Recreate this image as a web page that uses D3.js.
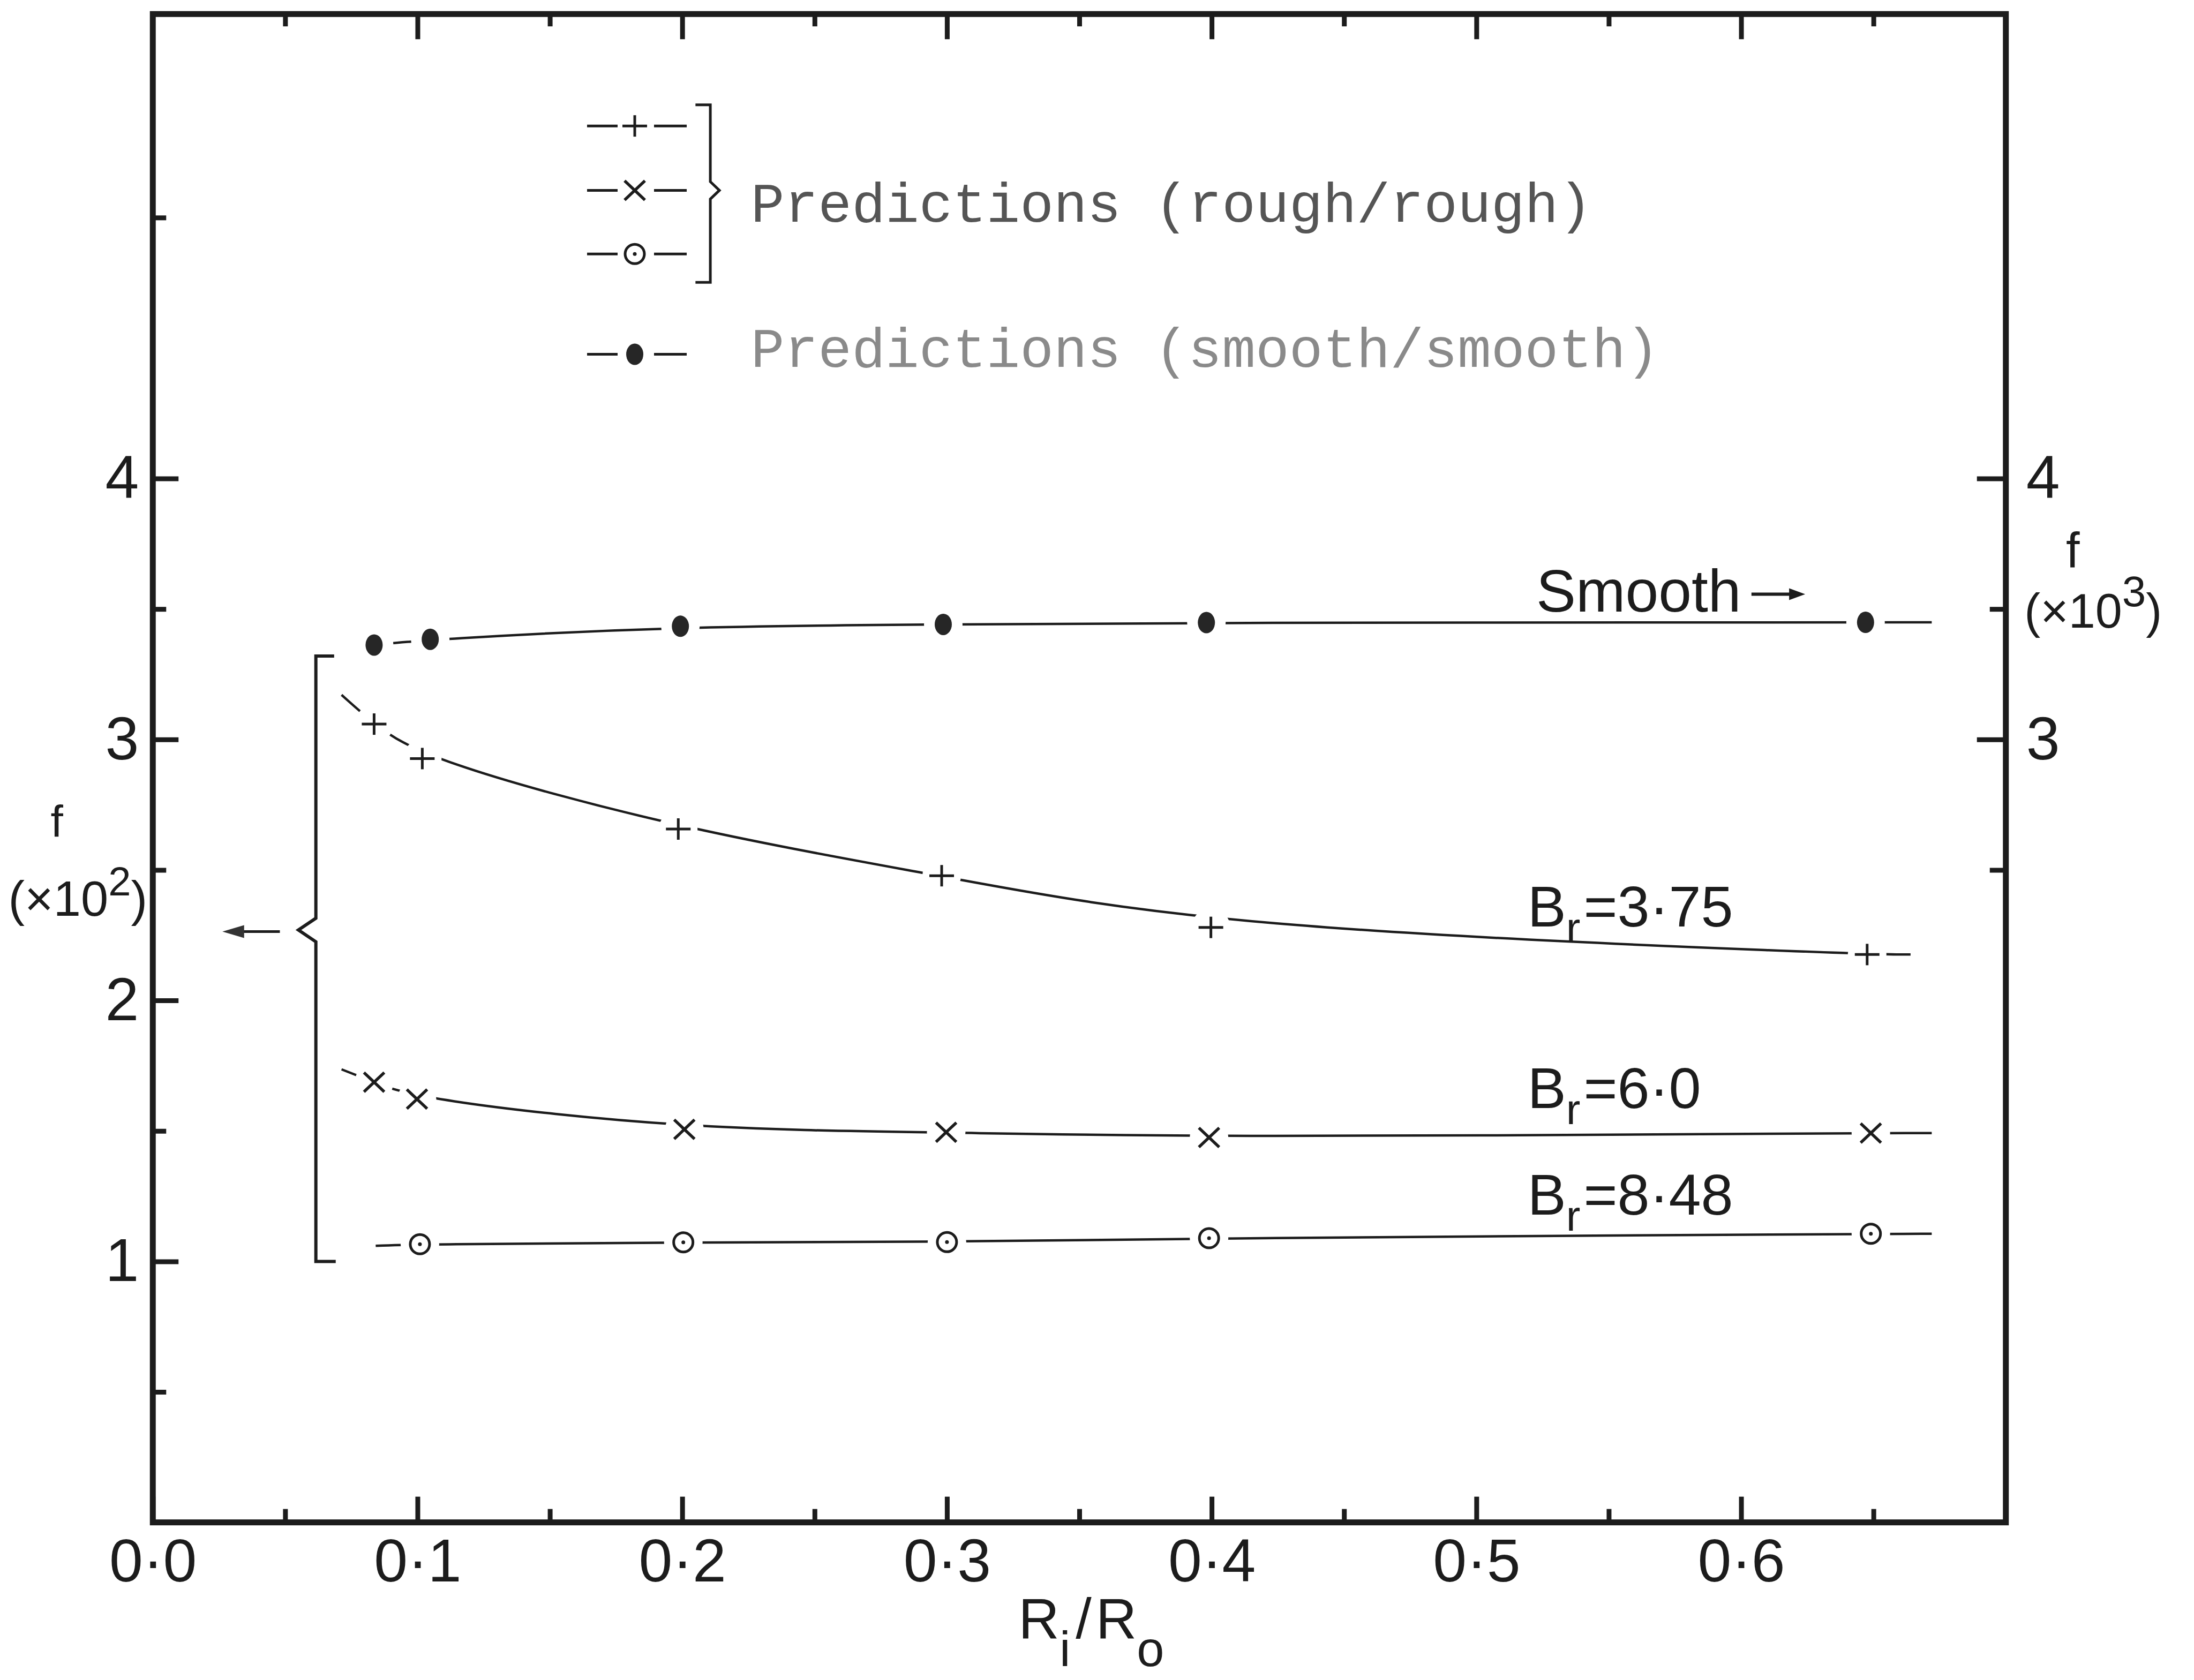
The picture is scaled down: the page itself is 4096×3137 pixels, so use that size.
<!DOCTYPE html>
<html><head><meta charset="utf-8">
<script src="https://cdn.jsdelivr.net/npm/d3@7"></script>
<style>html,body{margin:0;padding:0;background:#ffffff;} svg{display:block;}</style>
</head><body>
<svg id="chart" width="4096" height="3137"></svg>
<script>
// ---------------- data ----------------
// x: R_i/R_o ; y: f (x10^2 for rough/rough, x10^3 for smooth/smooth)
const smoothX = [0.0836, 0.1048, 0.1993, 0.2986, 0.398, 0.647];
const smoothY = [3.362, 3.384, 3.434, 3.441, 3.448, 3.449];
const br375X  = [0.0836, 0.1018, 0.1985, 0.298, 0.3997, 0.6476];
const br375Y  = [3.059, 2.927, 2.657, 2.478, 2.28, 2.176];
const br60X   = [0.0836, 0.0998, 0.2008, 0.2997, 0.399, 0.649];
const br60Y   = [1.687, 1.622, 1.506, 1.495, 1.475, 1.492];
const br848X  = [0.1009, 0.2004, 0.300, 0.399, 0.649];
const br848Y  = [1.066, 1.073, 1.074, 1.089, 1.106];
// where each drawn curve begins and ends (lead-in / tail of the pen line)
const smoothLead = null,            smoothTail = [0.672, 3.449];
const br375Lead  = [0.0713, 3.171], br375Tail  = [0.664, 2.176];
const br60Lead   = [0.0713, 1.736], br60Tail   = [0.672, 1.492];
const br848Lead  = [0.0842, 1.060], br848Tail  = [0.672, 1.106];

const xTickValues = [0, 0.1, 0.2, 0.3, 0.4, 0.5, 0.6];
const xTickLabels = ["0·0", "0·1", "0·2", "0·3", "0·4", "0·5", "0·6"];
const xMinorTicks = [0.05, 0.15, 0.25, 0.35, 0.45, 0.55, 0.65];
const topMajorTicks = [0.1, 0.2, 0.3, 0.4, 0.5, 0.6];
const yTickValues = [1, 2, 3, 4];
const yTickLabels = ["1", "2", "3", "4"];
const yMinorTicks = [0.5, 1.5, 2.5, 3.5, 5];
const yRightTickValues = [3, 4];
const yRightTickLabels = ["3", "4"];
const yRightMinorTicks = [2.5, 3.5];

const legendRough = "Predictions (rough/rough)";
const legendSmooth = "Predictions (smooth/smooth)";

// ---------------- layout ----------------
const S = 0.771;                 // reference px -> output px
const FONT = "'Liberation Sans', Arial, sans-serif";
const MONO = "'Liberation Mono', 'DejaVu Sans Mono', monospace";
const INK = "#1c1c1c";
const BG = "#ffffff";

const pL = 370 * S, pR = 4857 * S, pT = 34 * S, pB = 3687 * S;
const x = d3.scaleLinear().domain([0, 0.70]).range([pL, pR]);
const y = d3.scaleLinear().domain([0, 5.78]).range([pB, pT]);

const svg = d3.select("#chart");
svg.append("rect").attr("width", 4096).attr("height", 3137).attr("fill", BG);

// ---------------- axes ----------------
function finish(g, fs) {
  g.select(".domain").remove();
  g.attr("font-family", FONT).attr("font-size", fs);
  g.selectAll(".tick line").attr("stroke", INK).attr("stroke-width", 9);
  g.selectAll(".tick text").attr("fill", INK);
}
const TF = 113;
// left
svg.append("g").attr("transform", `translate(${pL},0)`)
  .call(d3.axisLeft(y).tickValues(yTickValues).tickFormat((d, i) => yTickLabels[i])
    .tickSizeInner(-48).tickSizeOuter(0).tickPadding(26)).call(g => finish(g, TF));
svg.append("g").attr("transform", `translate(${pL},0)`)
  .call(d3.axisLeft(y).tickValues(yMinorTicks).tickFormat("").tickSizeInner(-25).tickSizeOuter(0))
  .call(g => finish(g, TF));
// right
svg.append("g").attr("transform", `translate(${pR},0)`)
  .call(d3.axisRight(y).tickValues(yRightTickValues).tickFormat((d, i) => yRightTickLabels[i])
    .tickSizeInner(-54).tickSizeOuter(0).tickPadding(38)).call(g => finish(g, TF));
svg.append("g").attr("transform", `translate(${pR},0)`)
  .call(d3.axisRight(y).tickValues(yRightMinorTicks).tickFormat("").tickSizeInner(-30).tickSizeOuter(0))
  .call(g => finish(g, TF));
// bottom
svg.append("g").attr("transform", `translate(0,${pB})`)
  .call(d3.axisBottom(x).tickValues(xTickValues).tickFormat((d, i) => xTickLabels[i])
    .tickSizeInner(-48).tickSizeOuter(0).tickPadding(30)).call(g => finish(g, TF));
svg.append("g").attr("transform", `translate(0,${pB})`)
  .call(d3.axisBottom(x).tickValues(xMinorTicks).tickFormat("").tickSizeInner(-25).tickSizeOuter(0))
  .call(g => finish(g, TF));
// top
svg.append("g").attr("transform", `translate(0,${pT})`)
  .call(d3.axisTop(x).tickValues(topMajorTicks).tickFormat("").tickSizeInner(-47).tickSizeOuter(0))
  .call(g => finish(g, TF));
svg.append("g").attr("transform", `translate(0,${pT})`)
  .call(d3.axisTop(x).tickValues(xMinorTicks).tickFormat("").tickSizeInner(-23).tickSizeOuter(0))
  .call(g => finish(g, TF));

// frame
svg.append("rect").attr("x", pL).attr("y", pT).attr("width", pR - pL).attr("height", pB - pT)
  .attr("fill", "none").attr("stroke", INK).attr("stroke-width", 11).attr("stroke-linejoin", "miter");

// axis titles
const xt = svg.append("text").attr("x", x(0.327)).attr("y", 3059)
  .attr("font-family", FONT).attr("font-size", 106).attr("fill", INK);
xt.append("tspan").text("R");
xt.append("tspan").attr("dy", 52).attr("font-size", 92).text("i");
xt.append("tspan").attr("dy", -52).attr("dx", 10).text("/");
xt.append("tspan").attr("dx", 8).text("R");
xt.append("tspan").attr("dy", 52).attr("font-size", 92).text("o");

// left title f (x10^2)
svg.append("text").attr("x", pL - 179).attr("y", y(2.626)).attr("text-anchor", "middle")
  .attr("font-family", FONT).attr("font-size", 84).attr("fill", INK).text("f");
const lt = svg.append("text").attr("x", pL - 140).attr("y", y(2.324)).attr("text-anchor", "middle")
  .attr("font-family", FONT).attr("font-size", 92).attr("fill", INK);
lt.append("tspan").text("(×10");
lt.append("tspan").attr("dy", -38).attr("font-size", 76).text("2");
lt.append("tspan").attr("dy", 38).text(")");
// right title f (x10^3)
svg.append("text").attr("x", pR + 125).attr("y", y(3.66)).attr("text-anchor", "middle")
  .attr("font-family", FONT).attr("font-size", 92).attr("fill", INK).text("f");
const rt = svg.append("text").attr("x", pR + 163).attr("y", y(3.428)).attr("text-anchor", "middle")
  .attr("font-family", FONT).attr("font-size", 90).attr("fill", INK);
rt.append("tspan").text("(×10");
rt.append("tspan").attr("dy", -40).attr("font-size", 80).text("3");
rt.append("tspan").attr("dy", 40).text(")");

// ---------------- series ----------------
const series = [
  {xs: smoothX, ys: smoothY, lead: smoothLead, tail: smoothTail, marker: "dot"},
  {xs: br375X, ys: br375Y, lead: br375Lead, tail: br375Tail, marker: "plus"},
  {xs: br60X, ys: br60Y, lead: br60Lead, tail: br60Tail, marker: "cross"},
  {xs: br848X, ys: br848Y, lead: br848Lead, tail: br848Tail, marker: "circle"}
];
// hand-faired curves: a smoothing B-spline through the read points
const line = d3.line().x(d => x(d[0])).y(d => y(d[1])).curve(d3.curveBasis);
const lineG = svg.append("g"), maskG = svg.append("g"), markG = svg.append("g");

function drawMarker(g, type, cx, cy) {
  if (type === "dot") {
    g.append("ellipse").attr("cx", cx).attr("cy", cy).attr("rx", 16).attr("ry", 20).attr("fill", "#262626");
  } else if (type === "plus") {
    g.append("line").attr("x1", cx - 23).attr("x2", cx + 23).attr("y1", cy).attr("y2", cy)
      .attr("stroke", INK).attr("stroke-width", 5);
    g.append("line").attr("x1", cx).attr("x2", cx).attr("y1", cy - 20).attr("y2", cy + 20)
      .attr("stroke", INK).attr("stroke-width", 5);
  } else if (type === "cross") {
    g.append("line").attr("x1", cx - 19).attr("x2", cx + 19).attr("y1", cy - 18).attr("y2", cy + 18)
      .attr("stroke", INK).attr("stroke-width", 5.5);
    g.append("line").attr("x1", cx - 19).attr("x2", cx + 19).attr("y1", cy + 18).attr("y2", cy - 18)
      .attr("stroke", INK).attr("stroke-width", 5.5);
  } else if (type === "circle") {
    g.append("circle").attr("cx", cx).attr("cy", cy).attr("r", 18).attr("fill", BG)
      .attr("stroke", INK).attr("stroke-width", 5);
    g.append("circle").attr("cx", cx).attr("cy", cy).attr("r", 3.5).attr("fill", INK);
  }
}

series.forEach(s => {
  const pts = s.xs.map((v, i) => [v, s.ys[i]]);
  const all = (s.lead ? [s.lead] : []).concat(pts, s.tail ? [s.tail] : []);
  lineG.append("path").attr("d", line(all)).attr("fill", "none")
    .attr("stroke", INK).attr("stroke-width", 4.5).attr("stroke-linecap", "butt");
  pts.forEach(p => {
    maskG.append("circle").attr("cx", x(p[0])).attr("cy", y(p[1])).attr("r", 36).attr("fill", BG);
    drawMarker(markG, s.marker, x(p[0]), y(p[1]));
  });
});

// ---------------- annotations ----------------
const ann = svg.append("g").attr("font-family", FONT).attr("fill", INK);
// Smooth ->
ann.append("text").attr("x", x(0.5226)).attr("y", y(3.49)).attr("font-size", 111).text("Smooth");
svg.append("line").attr("x1", x(0.6039)).attr("x2", x(0.6205)).attr("y1", y(3.557)).attr("y2", y(3.557))
  .attr("stroke", INK).attr("stroke-width", 6);
svg.append("path").attr("d", `M${x(0.6242)},${y(3.557)} l-30,-11 l0,22 z`).attr("fill", INK);

function brLabel(xv, yv, val) {
  const t = ann.append("text").attr("x", x(xv)).attr("y", y(yv)).attr("font-size", 108);
  t.append("tspan").text("B");
  t.append("tspan").attr("dy", 30).attr("font-size", 80).text("r");
  t.append("tspan").attr("dy", -30).attr("dx", 6).text("=" + val);
}
brLabel(0.5193, 2.283, "3·75");
brLabel(0.5193, 1.587, "6·0");
brLabel(0.5193, 1.179, "8·48");

// bracket grouping the rough/rough curves, with arrow pointing to left axis
const bx = x(0.0616), bTop = y(3.32), bBot = y(1.0), bMid = y(2.27);
svg.append("path")
  .attr("d", `M${x(0.0685)},${bTop} L${bx},${bTop} L${bx},${bMid - 22} L${x(0.0550)},${bMid} L${bx},${bMid + 22} L${bx},${bBot} L${x(0.0691)},${bBot}`)
  .attr("fill", "none").attr("stroke", INK).attr("stroke-width", 6).attr("stroke-linejoin", "miter");
svg.append("line").attr("x1", x(0.048)).attr("x2", x(0.0335)).attr("y1", y(2.264)).attr("y2", y(2.264))
  .attr("stroke", INK).attr("stroke-width", 5);
svg.append("path").attr("d", `M${x(0.0263)},${y(2.264)} L${x(0.0345)},${y(2.264) - 12} L${x(0.0345)},${y(2.264) + 12} Z`)
  .attr("fill", "#333");

// ---------------- legend ----------------
const legX = 1537 * S;
const legRows = [{m: "plus", yy: 305 * S}, {m: "cross", yy: 461 * S}, {m: "circle", yy: 615 * S}, {m: "dot", yy: 858 * S}];
const leg = svg.append("g");
legRows.forEach(r => {
  leg.append("line").attr("x1", legX - 89).attr("x2", legX - 32).attr("y1", r.yy).attr("y2", r.yy)
    .attr("stroke", INK).attr("stroke-width", 5);
  leg.append("line").attr("x1", legX + 36).attr("x2", legX + 97).attr("y1", r.yy).attr("y2", r.yy)
    .attr("stroke", INK).attr("stroke-width", 5);
  drawMarker(leg, r.m, legX, r.yy);
});
leg.append("path")
  .attr("d", `M${1684 * S},${254 * S} L${1720 * S},${254 * S} L${1720 * S},${440 * S} L${1742 * S},${461 * S} L${1720 * S},${482 * S} L${1720 * S},${684 * S} L${1684 * S},${684 * S}`)
  .attr("fill", "none").attr("stroke", INK).attr("stroke-width", 5);
leg.append("text").attr("x", 1818 * S).attr("y", 537 * S).attr("font-family", MONO).attr("font-size", 104.7)
  .attr("fill", "#555").text(legendRough);
leg.append("text").attr("x", 1818 * S).attr("y", 889 * S).attr("font-family", MONO).attr("font-size", 104.7)
  .attr("fill", "#8a8a8a").text(legendSmooth);
</script>
</body></html>
